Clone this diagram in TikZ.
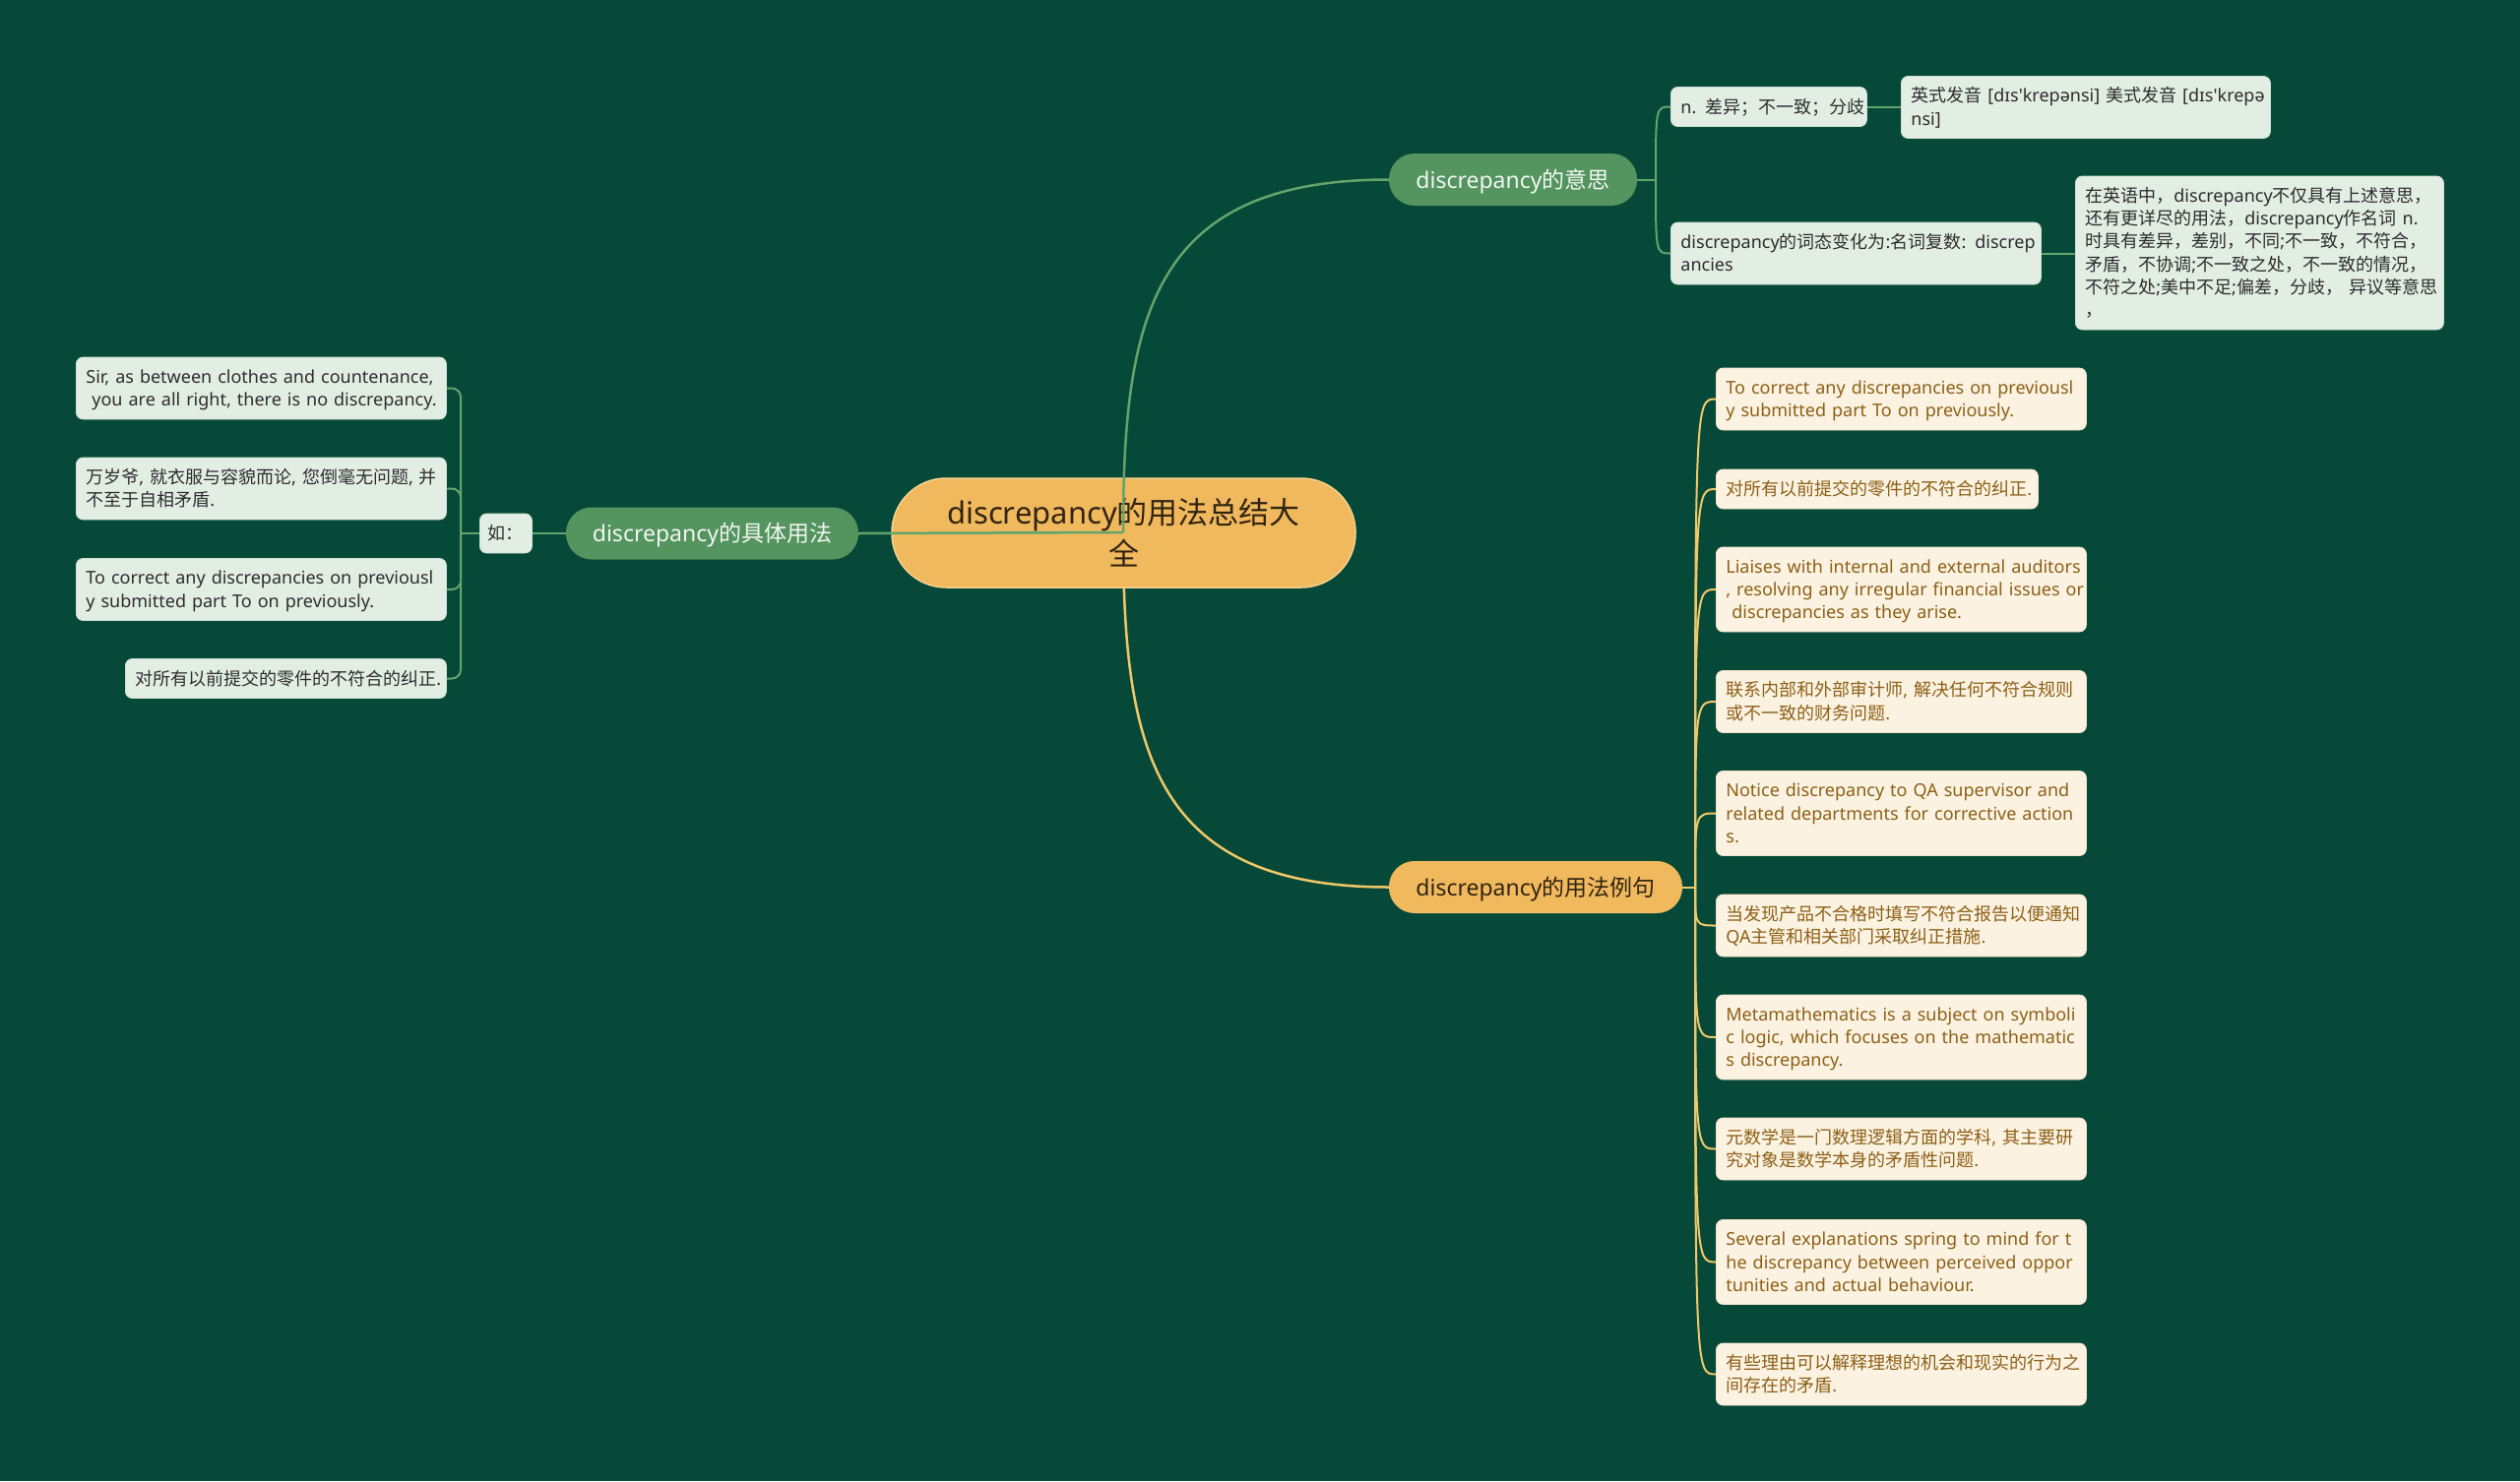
\documentclass[tikz,border=0pt]{standalone}
\usepackage{fontspec}
\newfontfamily\latfont{Noto Sans}
\newfontfamily\cjk{Noto Sans CJK SC}
\XeTeXinterchartokenstate=1
\newXeTeXintercharclass\cjkcls
\newcount\mycnt
\mycnt="3000 \loop\XeTeXcharclass\mycnt=\cjkcls \ifnum\mycnt<"303F \advance\mycnt by 1 \repeat
\mycnt="4E00 \loop\XeTeXcharclass\mycnt=\cjkcls \ifnum\mycnt<"9FFF \advance\mycnt by 1 \repeat
\mycnt="FF00 \loop\XeTeXcharclass\mycnt=\cjkcls \ifnum\mycnt<"FFEF \advance\mycnt by 1 \repeat
\XeTeXinterchartoks 0 \cjkcls={\begingroup\cjk}
\XeTeXinterchartoks 4095 \cjkcls={\begingroup\cjk}
\XeTeXinterchartoks \cjkcls 0={\endgroup}
\XeTeXinterchartoks \cjkcls 4095={\endgroup}
\newcommand\mb[1]{\mbox{#1}}
\definecolor{bg}{RGB}{7,73,56}
\definecolor{gnode}{RGB}{84,148,94}
\definecolor{gline}{RGB}{98,165,108}
\definecolor{lgfill}{RGB}{226,238,228}
\definecolor{lgdraw}{RGB}{205,225,210}
\definecolor{dtext}{RGB}{45,45,45}
\definecolor{yel}{RGB}{240,185,94}
\definecolor{yelb}{RGB}{246,210,140}
\definecolor{yline}{RGB}{240,200,105}
\definecolor{cream}{RGB}{252,242,226}
\definecolor{creamdraw}{RGB}{240,226,200}
\definecolor{brtext}{RGB}{140,96,22}
\definecolor{ttext}{RGB}{50,36,16}
\begin{document}
\begin{tikzpicture}[x=1pt,y=-1pt,
  box/.style={rounded corners=7pt, inner xsep=10pt, inner ysep=0pt, align=left, anchor=west,
    font=\latfont\fontsize{18}{23.3}\selectfont, line width=0.8pt, text height=13pt},
  gbox/.style={box, fill=lgfill, draw=lgdraw, text=dtext},
  ybox/.style={box, fill=cream, draw=creamdraw, text=brtext},
  one/.style={minimum height=40pt, text depth=0pt},
  two/.style={minimum height=63pt, text depth=23.3pt},
  three/.style={minimum height=86pt, text depth=46.6pt},
  branch/.style={rounded corners=26pt, minimum height=53pt, inner xsep=0pt, inner ysep=0pt,
    font=\latfont\fontsize{23}{28}\selectfont, text height=17.5pt, text depth=0pt},
  gbranch/.style={branch, fill=gnode, text=white!92!gnode},
  ybranch/.style={branch, fill=yel, text=ttext},
  gl/.style={draw=gline, line width=2pt},
  yl/.style={draw=yline, line width=2pt}
]
\fill[bg] (0,0) rectangle (2560,1505);
\useasboundingbox (0,0) rectangle (2560,1505);

\coordinate (cc) at (1141,541);

% branch nodes
\node[gbranch, minimum width=252pt] (ys) at (1537,182.5) {discrepancy的意思};
\node[gbranch, minimum width=297pt] (jt) at (723.5,542) {discrepancy的具体用法};
\node[ybranch, minimum width=298pt] (lx) at (1560,901.5) {discrepancy的用法例句};

% yellow main connector (behind centre)
\draw[yl, line width=2.5pt] (cc) .. controls (1141,760) and (1170,901.5) .. (lx.west);

% centre
\node[fill=yel, draw=yelb, line width=1.5pt, rounded corners=55pt, minimum width=471pt,
  minimum height=111pt, align=center, inner sep=0pt, text=ttext, text height=65pt, text depth=0pt,
  font=\latfont\fontsize{31}{42}\selectfont] (c) at (1141.5,541.5) {discrepancy的用法总结大\\全};

% green main connectors (on top of centre)
\draw[gl, line width=2.5pt] (cc) -- (jt.east);
\draw[gl, line width=2.5pt] (cc) .. controls (1141,322) and (1170,182.5) .. (ys.west);

% meaning children
\node[gbox, one, minimum width=199pt, text width=179pt] (g1) at (1697,108.5) {\mb{n. 差异；不一致；分歧}};
\node[gbox, two, minimum width=375pt, text width=355pt] (g2) at (1931,109) {\mb{英式发音 [dɪs'krepənsi] 美式发音 [dɪs'krepə}\\\mb{nsi]}};
\node[gbox, two, minimum width=376pt, text width=356pt] (g3) at (1697,257.5) {\mb{discrepancy的词态变化为:名词复数: discrep}\\\mb{ancies}};
\node[gbox, minimum height=156pt, text depth=116.5pt, minimum width=374pt, text width=354pt] (g4) at (2108,257) {\mb{在英语中，discrepancy不仅具有上述意思，}\\\mb{还有更详尽的用法，discrepancy作名词 n.}\\\mb{时具有差异，差别，不同;不一致，不符合，}\\\mb{矛盾，不协调;不一致之处，不一致的情况，}\\\mb{不符之处;美中不足;偏差，分歧， 异议等意思}\\\mb{，}};

\coordinate (ysj) at (1682,182.5);
\draw[gl] (ys.east) -- (ysj);
\draw[gl] (ysj) .. controls (ysj |- g1.west) .. (g1.west);
\draw[gl] (ysj) .. controls (ysj |- g3.west) .. (g3.west);
\draw[gl] (g1.east) -- (g2.west |- g1.east);
\draw[gl] (g3.east) -- (g4.west |- g3.east);

% left children
\node[gbox, one, minimum width=53pt, inner xsep=6pt] (ru) at (487,542) {如：};
\node[gbox, two, minimum width=376pt, text width=356pt] (s1) at (77,394.5) {\mb{Sir, as between clothes and countenance,}\\\mb{ you are all right, there is no discrepancy.}};
\node[gbox, two, minimum width=376pt, text width=356pt] (s2) at (77,496.5) {\mb{万岁爷, 就衣服与容貌而论, 您倒毫无问题, 并}\\\mb{不至于自相矛盾.}};
\node[gbox, two, minimum width=376pt, text width=356pt] (s3) at (77,599) {\mb{To correct any discrepancies on previousl}\\\mb{y submitted part To on previously.}};
\node[gbox, one, minimum width=326pt, text width=306pt] (s4) at (127,689.5) {\mb{对所有以前提交的零件的不符合的纠正.}};

\coordinate (lsj) at (468,542);
\draw[gl] (jt.west) -- (ru.east);
\draw[gl] (ru.west) -- (lsj);
\foreach \n in {s1,s2,s3,s4} \draw[gl, rounded corners=9pt] (lsj) |- (\n.east);

% example children
\node[ybox, two, minimum width=376pt, text width=356pt] (y1) at (1743,405.5) {\mb{To correct any discrepancies on previousl}\\\mb{y submitted part To on previously.}};
\node[ybox, one, minimum width=327pt, text width=307pt] (y2) at (1743,497) {\mb{对所有以前提交的零件的不符合的纠正.}};
\node[ybox, three, minimum width=376pt, text width=356pt] (y3) at (1743,599) {\mb{Liaises with internal and external auditors}\\\mb{, resolving any irregular financial issues or}\\\mb{ discrepancies as they arise.}};
\node[ybox, two, minimum width=376pt, text width=356pt] (y4) at (1743,713) {\mb{联系内部和外部审计师, 解决任何不符合规则}\\\mb{或不一致的财务问题.}};
\node[ybox, three, minimum width=376pt, text width=356pt] (y5) at (1743,826.5) {\mb{Notice discrepancy to QA supervisor and}\\\mb{related departments for corrective action}\\\mb{s.}};
\node[ybox, two, minimum width=376pt, text width=356pt] (y6) at (1743,940.5) {\mb{当发现产品不合格时填写不符合报告以便通知}\\\mb{QA主管和相关部门采取纠正措施.}};
\node[ybox, three, minimum width=376pt, text width=356pt] (y7) at (1743,1054) {\mb{Metamathematics is a subject on symboli}\\\mb{c logic, which focuses on the mathematic}\\\mb{s discrepancy.}};
\node[ybox, two, minimum width=376pt, text width=356pt] (y8) at (1743,1167.5) {\mb{元数学是一门数理逻辑方面的学科, 其主要研}\\\mb{究对象是数学本身的矛盾性问题.}};
\node[ybox, three, minimum width=376pt, text width=356pt] (y9) at (1743,1282.5) {\mb{Several explanations spring to mind for t}\\\mb{he discrepancy between perceived oppor}\\\mb{tunities and actual behaviour.}};
\node[ybox, two, minimum width=376pt, text width=356pt] (y10) at (1743,1396.5) {\mb{有些理由可以解释理想的机会和现实的行为之}\\\mb{间存在的矛盾.}};

\coordinate (lj) at (1722,901.5);
\draw[yl] (lx.east) -- (lj);
\foreach \n in {y1,y2,y3,y4,y5,y6,y7,y8,y9,y10} \draw[yl] (lj) .. controls (lj |- \n.west) .. (\n.west);
\end{tikzpicture}
\end{document}
